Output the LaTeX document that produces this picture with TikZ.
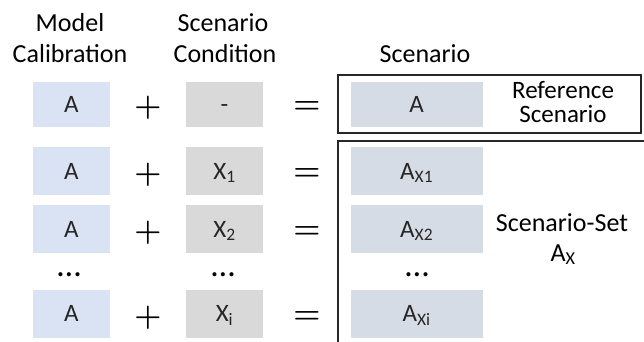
\documentclass[tikz,border=0pt]{standalone}
\usepackage{fix-cm}
\usepackage{fontspec}
\setmainfont{Carlito}
\begin{document}
\begin{tikzpicture}[x=1pt,y=-1pt,
  hdr/.style={anchor=base,font=\fontsize{26}{30}\selectfont,inner sep=0pt},
  tight/.style={hdr,font=\fontsize{25}{28}\selectfont},
  cell/.style={draw=none,minimum width=#1,inner sep=0pt,text height=16pt,text depth=0pt,
    font=\fontsize{25}{28}\selectfont,text=black!85},
  calib/.style={cell=77.3,fill=calibblue},
  cond/.style={cell=77,fill=condgray},
  scen/.style={cell=132,fill=scengray},
  op/.style={font=\fontsize{31}{40}\selectfont\boldmath,inner sep=0pt},
  dotsnode/.style={anchor=base,font=\fontsize{34}{40}\selectfont,inner sep=0pt},
  frame/.style={draw=black!85,line width=1.6pt}]
\definecolor{calibblue}{HTML}{DAE3F3}
\definecolor{condgray}{HTML}{D9D9D9}
\definecolor{scengray}{HTML}{D6DCE5}
\useasboundingbox (0,0) rectangle (644,342);

% column headings
\node[hdr] (h1a) at (70,31.7) {Model};
\node[hdr] (h1b) at (70,63) {Calibration};
\node[hdr] (h2a) at (223,31.7) {Scenario};
\node[hdr] (h2b) at (225,63) {Condition};
\node[hdr] (h3) at (425,63) {Scenario};

% reference scenario row
\node[calib,minimum height=45] (c0) at (71.35,104.5) {A};
\node[op] (p0) at (148,108) {$+$};
\node[cond,minimum height=45] (x0) at (224.5,104.5) {-};
\node[op] (e0) at (307,108) {$=$};
\node[scen,minimum height=45] (s0) at (416.7,104.5) {A};
\node[tight] (ref1) at (563,99) {Reference};
\node[tight] (ref2) at (563,122.5) {Scenario};
\draw[frame] (338,75) rectangle (641,133);

% scenario set rows
\foreach \r/\y/\sub in {1/171/1,2/229/2,3/313.75/i}{
  \node[calib,minimum height=48] (c\r) at (71.35,\y) {A};
  \node[op] (p\r) at (148,\y+3.5) {$+$};
  \node[cond,minimum height=48] (x\r) at (224.5,\y) {X\textsubscript{\sub}};
  \node[op] (e\r) at (307,\y+3.5) {$=$};
  \node[scen,minimum height=48] (s\r) at (416.7,\y) {A\textsubscript{X\sub}};
}
\node[dotsnode] (d1) at (69,276) {…};
\node[dotsnode] (d2) at (223,276) {…};
\node[dotsnode] (d3) at (417,276) {…};

\node[hdr] (set1) at (562,231) {Scenario-Set};
\node[hdr] (set2) at (563,261) {A\textsubscript{X}};

% open frame around the scenario set
\begin{scope}
  \clip (0,0) rectangle (644,342);
  \draw[frame] (660,141) -- (338,141) -- (338,360);
\end{scope}
\end{tikzpicture}
\end{document}
